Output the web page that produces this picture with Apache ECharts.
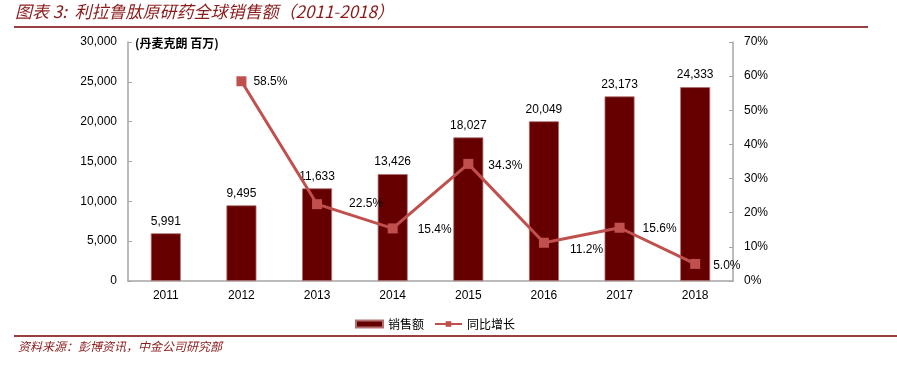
<!DOCTYPE html>
<html><head><meta charset="utf-8">
<script src="https://cdn.jsdelivr.net/npm/echarts@6/dist/echarts.min.js"></script>
<style>html,body{margin:0;padding:0;background:#fff}#c{width:897px;height:371px}</style>
</head><body><div id="c"></div>
<script>
const years = ['2011','2012','2013','2014','2015','2016','2017','2018'];
const sales = [5991, 9495, 11633, 13426, 18027, 20049, 23173, 24333];
const growth = [null, 58.5, 22.5, 15.4, 34.3, 11.2, 15.6, 5.0];
const leftTicks = [0, 5000, 10000, 15000, 20000, 25000, 30000];
const rightTicks = [0, 10, 20, 30, 40, 50, 60, 70];
const labelOffsets = [null, [1,0], [21,0], [14,1], [9,2], [15,7], [12,1], [7,2]];

const chart = echarts.init(document.getElementById('c'), null, {renderer:'canvas'});
const FONT = '"Liberation Sans", Arial, sans-serif';
const CJK = '"Noto Sans CJK SC", sans-serif';
chart.setOption({
  animation:false,
  textStyle:{fontFamily:FONT},
  grid:{left:128, right:164, top:42, bottom:90, containLabel:false},
  legend:{
    left:350, top:313, itemGap:10, itemWidth:27, itemHeight:7,
    textStyle:{fontFamily:CJK, fontSize:12, color:'#000'},
    data:[{name:'销售额', icon:'rect'}, {name:'同比增长'}]
  },
  xAxis:{
    type:'category', data:years,
    axisLine:{lineStyle:{color:'#a6a6a6', width:1.5}},
    axisTick:{inside:true, length:4, lineStyle:{color:'#a6a6a6'}},
    axisLabel:{color:'#000', fontSize:12, fontFamily:FONT, margin:9}
  },
  yAxis:[{
    type:'value', min:0, max:30000, interval:5000,
    axisLine:{show:true, lineStyle:{color:'#a6a6a6', width:1.5}},
    axisTick:{show:true, inside:true, length:4, lineStyle:{color:'#a6a6a6'}},
    splitLine:{show:false},
    axisLabel:{color:'#000', fontSize:12, fontFamily:FONT, margin:11,
      formatter:v=>v.toLocaleString('en-US')}
  },{
    type:'value', min:0, max:70, interval:10, position:'right',
    axisLine:{show:true, lineStyle:{color:'#a6a6a6', width:1.5}},
    axisTick:{show:true, inside:true, length:4, lineStyle:{color:'#a6a6a6'}},
    splitLine:{show:false},
    axisLabel:{color:'#000', fontSize:12, fontFamily:FONT, margin:11, formatter:v=>v+'%'}
  }],
  series:[{
    name:'销售额', type:'bar', data:sales, barWidth:30,
    itemStyle:{color:'#660000', borderColor:'#b07070', borderWidth:0.8},
    label:{show:true, position:'top', distance:6, color:'#000', fontSize:12, fontFamily:FONT,
      formatter:p=>p.value.toLocaleString('en-US')}
  },{
    name:'同比增长', type:'line', yAxisIndex:1,
    data:growth.map((v,i)=>v==null?null:{value:v, label:{offset:labelOffsets[i]}}),
    connectNulls:false,
    lineStyle:{color:'#c0504d', width:3},
    itemStyle:{color:'#c0504d'},
    symbol:'rect', symbolSize:10, showSymbol:true,
    label:{show:true, position:'right', distance:6, color:'#000', fontSize:12, fontFamily:FONT,
      formatter:p=>p.value.toFixed(1)+'%'}
  }],
  graphic:[
    {type:'text', left:15, top:3, style:{text:'图表 3:  利拉鲁肽原研药全球销售额（2011-2018）', font:'italic 17px "Noto Sans CJK SC", sans-serif', fill:'#8b1a1a'}},
    {type:'line', shape:{x1:14, y1:27, x2:868, y2:27}, style:{stroke:'#7a0000', lineWidth:1.5}},
    {type:'text', left:135, top:37, style:{text:'(丹麦克朗 百万)', font:'bold 12px "Noto Sans CJK SC", sans-serif', fill:'#000'}},
    {type:'line', shape:{x1:14, y1:336, x2:897, y2:336}, style:{stroke:'#7a0000', lineWidth:1.5}},
    {type:'text', left:18, top:340, style:{text:'资料来源：彭博资讯，中金公司研究部', font:'italic 12px "Noto Sans CJK SC", sans-serif', fill:'#8b1a1a'}}
  ]
});
</script></body></html>
